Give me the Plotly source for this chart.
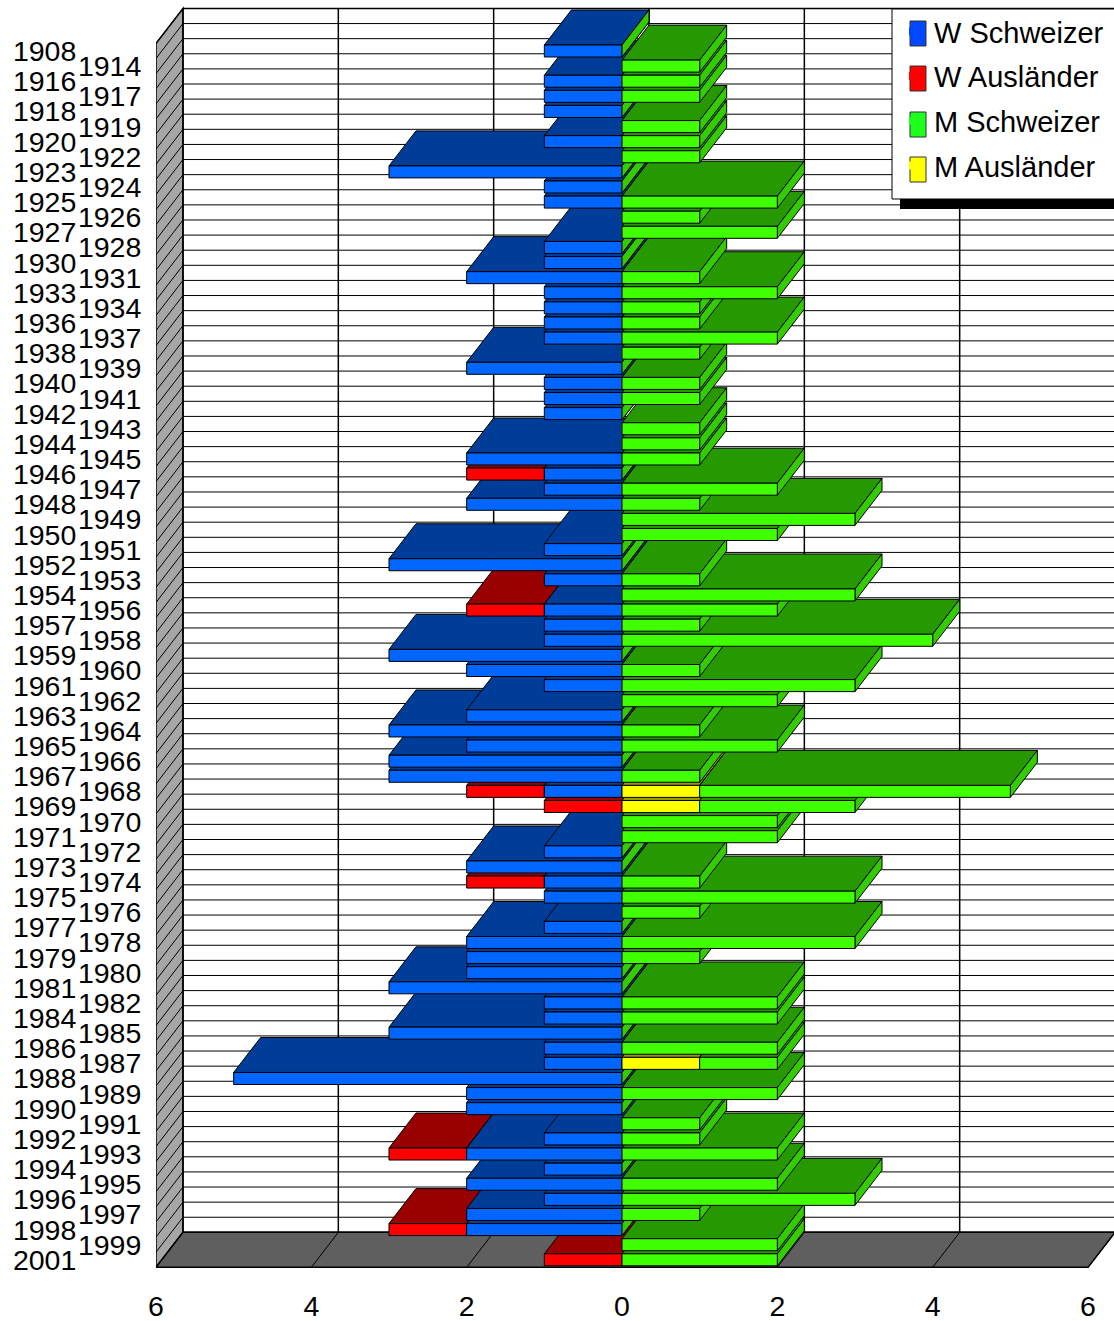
import plotly.graph_objects as go

years = [1908,1914,1916,1917,1918,1919,1920,1922,1923,1924,1925,1926,1927,1928,1930,1931,1933,1934,1936,1937,
         1938,1939,1940,1941,1942,1943,1944,1945,1946,1947,1948,1949,1950,1951,1952,1953,1954,1956,1957,1958,
         1959,1960,1961,1962,1963,1964,1965,1966,1967,1968,1969,1970,1971,1972,1973,1974,1975,1976,1977,1978,
         1979,1980,1981,1982,1984,1985,1986,1987,1988,1989,1990,1991,1992,1993,1994,1995,1996,1997,1998,1999,2001]
w_schweizer = [1,0,1,1,1,0,1,0,3,1,1,0,0,1,1,2,1,1,1,1,0,2,1,1,1,0,0,2,1,1,2,0,0,1,3,1,0,1,1,1,
               3,2,1,0,2,3,2,3,3,1,0,0,0,1,2,1,1,0,1,2,2,2,3,1,1,3,1,1,5,2,2,0,1,2,1,2,1,2,2,0,0]
w_auslaender = [0,0,0,0,0,0,0,0,0,0,0,0,0,0,0,0,0,0,0,0,0,0,0,0,0,0,0,0,1,0,0,0,0,0,0,0,0,1,0,0,
                0,0,0,0,0,0,0,0,0,1,1,0,0,0,0,1,0,0,0,0,0,0,0,0,0,0,0,0,0,0,0,0,0,1,0,0,0,0,1,0,1]
m_schweizer = [0,1,1,1,0,1,1,1,0,0,2,1,2,0,0,1,2,1,1,2,1,0,1,1,0,1,1,1,0,2,1,3,2,0,0,1,3,2,1,4,
               0,1,3,2,0,1,2,0,1,4,2,2,2,0,0,1,3,1,0,3,1,0,0,2,2,0,2,1,0,2,0,1,1,2,0,2,3,1,0,2,2]
m_auslaender = [0]*81
for _i in (49, 50, 67):
    m_auslaender[_i] = 1
x_ticks = [-6, -4, -2, 0, 2, 4, 6]
series_names = ["W Schweizer", "W Ausländer", "M Schweizer", "M Ausländer"]
legend_colors = ["#0047FF", "#FF0000", "#1EFF1E", "#FFFF00"]

W, H = 1114, 1321
PX_X0, PX_PER_X = 622.0, 77.67
PX_Y0, PX_PER_ROW = 51.0, 15.11
PLOT_LEFT, PLOT_BOTTOM = 156, 1268
DX = 27 / PX_PER_X
DY = 35 / PX_PER_ROW
HALF = 6 / PX_PER_ROW

def px_x(p):
    return (p - PX_X0) / PX_PER_X

def px_y(p):
    return (p - PX_Y0) / PX_PER_ROW

COL = {
    "ws": ("#0066FF", "#003D99", "#0052CC"),
    "wa": ("#FF0000", "#990000", "#CC0000"),
    "ms": ("#40FF00", "#269900", "#33CC00"),
    "ma": ("#FFFF00", "#999900", "#CCCC00"),
}
traces = []

def poly(xs, ys, color):
    traces.append(go.Scatter(x=xs + xs[:1], y=ys + ys[:1], mode="lines", fill="toself", fillcolor=color,
                             line=dict(color="black", width=1), showlegend=False, hoverinfo="skip"))

def block(i, x0, x1, key):
    f, t, s = COL[key]
    yt, yb = i - HALF, i + HALF
    if x1 > x0:
        poly([x0, x1, x1 + DX, x0 + DX], [yt, yt, yt - DY, yt - DY], t)
    poly([x1, x1 + DX, x1 + DX, x1], [yt, yt - DY, yb - DY, yb], s)
    if x1 > x0:
        poly([x0, x1, x1, x0], [yt, yt, yb, yb], f)

# Rows are painted last-to-first: the upper rows cover the top faces of the rows below them
for i in range(len(years) - 1, -1, -1):
    ws, wa, ms, ma = w_schweizer[i], w_auslaender[i], m_schweizer[i], m_auslaender[i]
    if wa:
        block(i, -(ws + wa), -ws, "wa")
    if ws:
        block(i, -ws, 0, "ws")
    if ma:
        block(i, 0, ma, "ma")
    if ms or not ma:
        block(i, ma, ma + ms, "ms")

# legend entries
for name, c in zip(series_names, legend_colors):
    traces.append(go.Scatter(x=[None], y=[None], mode="markers", name=name, legendgroup=name,
                             marker=dict(symbol="square", size=8, color=c, line=dict(width=0))))
# carries the second column of year labels
traces.append(go.Scatter(x=[None], y=[None], yaxis="y2", showlegend=False, hoverinfo="skip"))

shapes = []
def pshape(pts, fill, width=1):
    path = "M" + " L".join(f"{a},{b}" for a, b in pts) + " Z"
    shapes.append(dict(type="path", path=path, xref="x", yref="y", layer="below", fillcolor=fill,
                       line=dict(color="black", width=width)))
def lshape(x0, y0, x1, y1, width=1):
    shapes.append(dict(type="line", x0=x0, y0=y0, x1=x1, y1=y1, xref="x", yref="y", layer="below",
                       line=dict(color="black", width=width)))
def above_rect(l, r, t, b, fill, line_w=0, line_c="black"):
    shapes.append(dict(type="rect", x0=px_x(l), x1=px_x(r), y0=px_y(t), y1=px_y(b), xref="x", yref="y",
                       layer="above", fillcolor=fill, line=dict(width=line_w, color=line_c)))

n = len(years)
y_front_top, y_front_bot = -0.5, n - 0.5
xl, xr = x_ticks[0], x_ticks[-1]
# left wall
pshape([(xl, y_front_top), (xl + DX, y_front_top - DY), (xl + DX, y_front_bot - DY), (xl, y_front_bot)], "#A6A6A6", 1.5)
# floor
pshape([(xl, y_front_bot), (xl + DX, y_front_bot - DY), (xr + DX, y_front_bot - DY), (xr, y_front_bot)], "#5F5F5F", 1.5)
for k in range(n + 1):
    b = k - 0.5
    lshape(xl + DX, b - DY, xr + DX, b - DY, 1.5 if k in (0, n) else 1)
    lshape(xl, b, xl + DX, b - DY)
for t in x_ticks:
    lshape(t + DX, y_front_top - DY, t + DX, y_front_bot - DY, 1.5)
    lshape(t, y_front_bot, t + DX, y_front_bot - DY)
# legend shadow, box and tall swatches behind the legend text
above_rect(900, 1114, 199, 209, "black")
above_rect(892, 1116, 9, 199, "white", 1)
for c, top in zip(legend_colors, [21, 66, 112, 157]):
    above_rect(910, 926, top, top + 25, c, 1, "#333333")

TICK_FONT = dict(family="Liberation Sans, Arial, sans-serif", size=28.5, color="black")
yrange = [px_y(PLOT_BOTTOM), px_y(0)]
fig = go.Figure(traces)
fig.update_layout(
    width=W, height=H, margin=dict(l=PLOT_LEFT, r=0, t=0, b=H - PLOT_BOTTOM, pad=0, autoexpand=False),
    paper_bgcolor="white", plot_bgcolor="white", shapes=shapes, hovermode=False,
    font=TICK_FONT,
    xaxis=dict(range=[px_x(PLOT_LEFT), px_x(W)], tickmode="array", tickvals=x_ticks, automargin=False,
               ticktext=[str(abs(t)) for t in x_ticks], tickfont=TICK_FONT, ticks="outside",
               ticklen=13, tickcolor="rgba(0,0,0,0)", showgrid=False, zeroline=False, showline=False),
    yaxis=dict(range=yrange, tickmode="array", tickvals=list(range(1, n, 2)), automargin=False,
               ticktext=[str(y) for y in years[1::2]], tickfont=TICK_FONT, ticks="outside",
               ticklen=8, tickcolor="rgba(0,0,0,0)", showgrid=False, zeroline=False, showline=False),
    yaxis2=dict(range=yrange, overlaying="y", side="left", tickmode="array", tickvals=list(range(0, n, 2)), automargin=False,
                ticktext=[str(y) for y in years[0::2]], tickfont=TICK_FONT, ticks="outside",
                ticklen=73, tickcolor="rgba(0,0,0,0)", showgrid=False, zeroline=False, showline=False),
    legend=dict(x=(892 - PLOT_LEFT) / (W - PLOT_LEFT), xanchor="left", y=1 - 6 / PLOT_BOTTOM, yanchor="top",
                bgcolor="rgba(0,0,0,0)", borderwidth=0, tracegroupgap=4, itemsizing="trace", itemwidth=32,
                font=dict(family="Liberation Sans, Arial, sans-serif", size=29, color="black")),
)
fig.write_html("out.html", post_script="document.body.style.margin='0';document.body.style.overflow='hidden';",
               config=dict(displayModeBar=False))
